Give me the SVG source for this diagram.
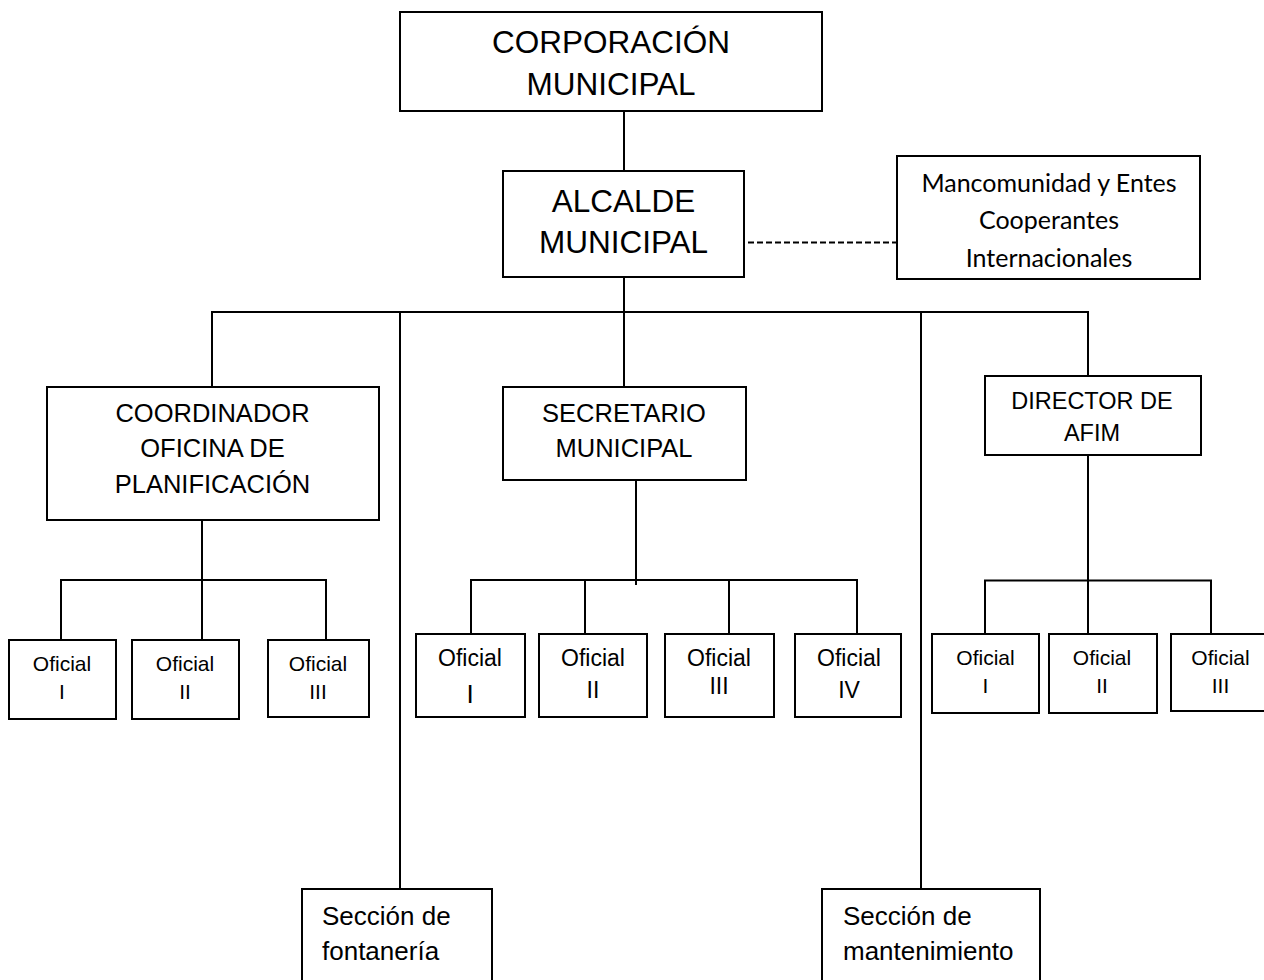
<svg xmlns="http://www.w3.org/2000/svg" width="1264" height="980" viewBox="0 0 1264 980">
<style>
.box{fill:#fff;stroke:#000;stroke-width:2}
.ln{stroke:#000;stroke-width:2;fill:none}
.dash{stroke:#000;stroke-width:2;stroke-dasharray:6 3;fill:none}
.t{font-family:"Liberation Sans",Arial,sans-serif;fill:#000;text-anchor:middle}
.big{font-size:31.5px}
.mid{font-size:25.5px}
.dir{font-size:23.5px}
.of{font-size:21px}
.of2{font-size:23px}
.sec{font-family:"Liberation Sans",Arial,sans-serif;font-size:26px;fill:#000}
.cal{font-family:Lato,"Open Sans",sans-serif;font-size:25px;fill:#000;text-anchor:middle}
</style>
<rect width="1264" height="980" fill="#fff"/>
<g id="connectors">
<line class="ln" x1="624" y1="111" x2="624" y2="171"/>
<line class="ln" x1="624" y1="277" x2="624" y2="312"/>
<line class="dash" x1="748" y1="242.5" x2="897" y2="242.5"/>
<line class="ln" x1="211" y1="312" x2="1089" y2="312"/>
<line class="ln" x1="212" y1="312" x2="212" y2="387"/>
<line class="ln" x1="400" y1="312" x2="400" y2="889"/>
<line class="ln" x1="624" y1="312" x2="624" y2="387"/>
<line class="ln" x1="921" y1="312" x2="921" y2="889"/>
<line class="ln" x1="1088" y1="312" x2="1088" y2="376"/>
<line class="ln" x1="202" y1="520" x2="202" y2="640"/>
<line class="ln" x1="60" y1="580" x2="327" y2="580"/>
<line class="ln" x1="61" y1="580" x2="61" y2="640"/>
<line class="ln" x1="326" y1="580" x2="326" y2="640"/>
<line class="ln" x1="636" y1="480" x2="636" y2="585"/>
<line class="ln" x1="470" y1="580" x2="858" y2="580"/>
<line class="ln" x1="471" y1="580" x2="471" y2="634"/>
<line class="ln" x1="585" y1="580" x2="585" y2="634"/>
<line class="ln" x1="729" y1="580" x2="729" y2="634"/>
<line class="ln" x1="857" y1="580" x2="857" y2="634"/>
<line class="ln" x1="1088" y1="455" x2="1088" y2="634"/>
<line class="ln" x1="984" y1="580.5" x2="1212" y2="580.5"/>
<line class="ln" x1="985" y1="580" x2="985" y2="634"/>
<line class="ln" x1="1211" y1="580" x2="1211" y2="634"/>
</g>
<g id="corporacion">
<rect class="box" x="400" y="12" width="422" height="99"/>
<text class="t big" x="611" y="53">CORPORACIÓN</text>
<text class="t big" x="611" y="95">MUNICIPAL</text>
</g>
<g id="alcalde">
<rect class="box" x="503" y="171" width="241" height="106"/>
<text class="t big" x="623.5" y="212">ALCALDE</text>
<text class="t big" x="623.5" y="253">MUNICIPAL</text>
</g>
<g id="mancomunidad">
<rect class="box" x="897" y="156" width="303" height="123"/>
<text class="cal" x="1049" y="192">Mancomunidad y Entes</text>
<text class="cal" x="1049" y="229">Cooperantes</text>
<text class="cal" x="1049" y="267">Internacionales</text>
</g>
<g id="coordinador">
<rect class="box" x="47" y="387" width="332" height="133"/>
<text class="t mid" x="212.5" y="422">COORDINADOR</text>
<text class="t mid" x="212.5" y="457">OFICINA DE</text>
<text class="t mid" x="212.5" y="493">PLANIFICACIÓN</text>
</g>
<g id="secretario">
<rect class="box" x="503" y="387" width="243" height="93"/>
<text class="t mid" x="624" y="422">SECRETARIO</text>
<text class="t mid" x="624" y="457">MUNICIPAL</text>
</g>
<g id="director">
<rect class="box" x="985" y="376" width="216" height="79"/>
<text class="t dir" x="1092" y="409">DIRECTOR DE</text>
<text class="t dir" x="1092" y="441">AFIM</text>
</g>
<g id="plan-oficial-1">
<rect class="box" x="9" y="640" width="107" height="79"/>
<text class="t of" x="62" y="671">Oficial</text>
<text class="t of" x="62" y="699">I</text>
</g>
<g id="plan-oficial-2">
<rect class="box" x="132" y="640" width="107" height="79"/>
<text class="t of" x="185" y="671">Oficial</text>
<text class="t of" x="185" y="699">II</text>
</g>
<g id="plan-oficial-3">
<rect class="box" x="268" y="640" width="101" height="77"/>
<text class="t of" x="318" y="671">Oficial</text>
<text class="t of" x="318" y="699">III</text>
</g>
<g id="sec-oficial-1">
<rect class="box" x="416" y="634" width="109" height="83"/>
<text class="t of2" x="470" y="666">Oficial</text>
<text class="t" style="font-size:26px" x="470" y="703">I</text>
</g>
<g id="sec-oficial-2">
<rect class="box" x="539" y="634" width="108" height="83"/>
<text class="t of2" x="593" y="666">Oficial</text>
<text class="t of2" x="593" y="698">II</text>
</g>
<g id="sec-oficial-3">
<rect class="box" x="665" y="634" width="109" height="83"/>
<text class="t of2" x="719" y="666">Oficial</text>
<text class="t of2" x="719" y="694">III</text>
</g>
<g id="sec-oficial-4">
<rect class="box" x="795" y="634" width="106" height="83"/>
<text class="t of2" x="849" y="666">Oficial</text>
<text class="t of2" x="849" y="698">IV</text>
</g>
<g id="afim-oficial-1">
<rect class="box" x="932" y="634" width="107" height="79"/>
<text class="t of" x="985.5" y="665">Oficial</text>
<text class="t of" x="985.5" y="693">I</text>
</g>
<g id="afim-oficial-2">
<rect class="box" x="1049" y="634" width="108" height="79"/>
<text class="t of" x="1102" y="665">Oficial</text>
<text class="t of" x="1102" y="693">II</text>
</g>
<g id="afim-oficial-3">
<rect class="box" x="1171" y="634" width="100" height="77"/>
<text class="t of" x="1220.5" y="665">Oficial</text>
<text class="t of" x="1220.5" y="693">III</text>
</g>
<g id="fontaneria">
<rect class="box" x="302" y="889" width="190" height="100"/>
<text class="sec" x="322" y="925">Sección de</text>
<text class="sec" x="322" y="960">fontanería</text>
</g>
<g id="mantenimiento">
<rect class="box" x="822" y="889" width="218" height="100"/>
<text class="sec" x="843" y="925">Sección de</text>
<text class="sec" x="843" y="960">mantenimiento</text>
</g>
</svg>
